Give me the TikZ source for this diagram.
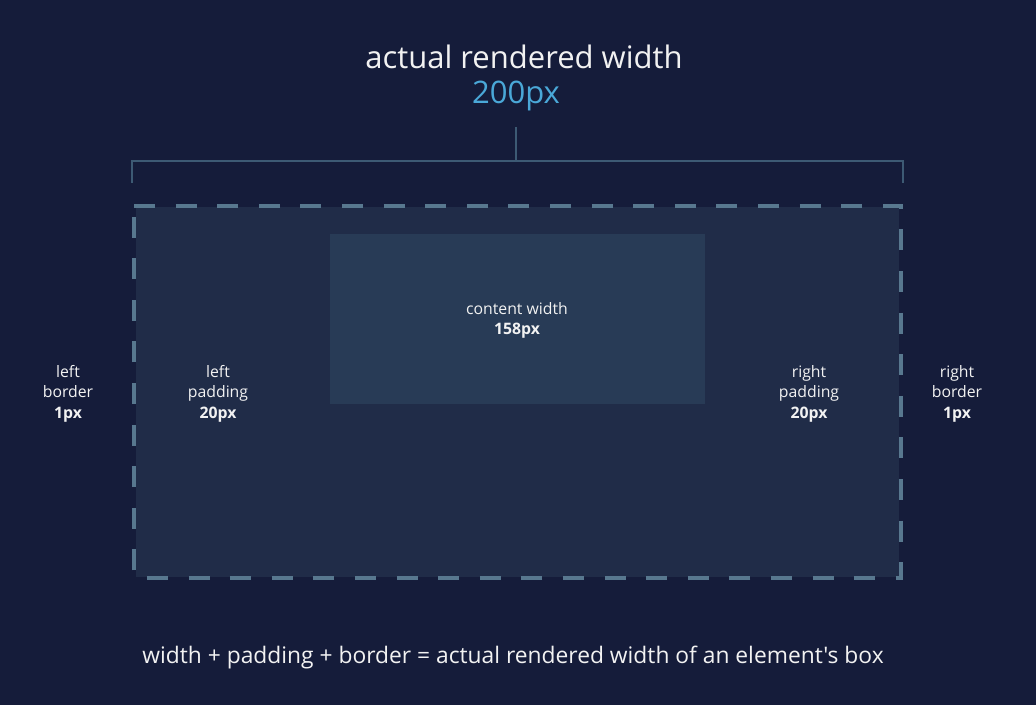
\documentclass[tikz,border=0pt]{standalone}
\usepackage{fontspec}
\setmainfont{Open Sans}
\definecolor{bg}{HTML}{151C3A}
\definecolor{panelc}{HTML}{202C48}
\definecolor{contentc}{HTML}{283B56}
\definecolor{dashc}{HTML}{58788F}
\definecolor{brk}{HTML}{3D5A74}
\definecolor{accent}{HTML}{4AA8D8}
\definecolor{txt}{HTML}{F2F2F2}
\begin{document}
\begin{tikzpicture}[x=1pt,y=-1pt,
  lbl/.style={text=txt,font=\fontsize{15.8}{20.5}\selectfont,align=center,inner sep=0pt},
  bracketline/.style={draw=brk,line width=1.5pt}]
\useasboundingbox[fill=bg] (0,0) rectangle (1036,705);
% panel
\fill[panelc] (136,207) rectangle (899,577);
\node[fill=contentc,minimum width=375pt,minimum height=170pt,inner sep=0pt,anchor=north west] (cbox) at (330,234) {};
\draw[draw=dashc,line width=4pt,dash pattern=on 21pt off 20.6pt] (134,206) -- (901,206) -- (901,578) -- (134,578) -- cycle;
% bracket
\coordinate (bl) at (132,183);
\coordinate (br) at (903,183);
\coordinate (btl) at (132,161);
\coordinate (btr) at (903,161);
\coordinate (bm) at (516,161);
\coordinate (bt) at (516,127);
\draw[bracketline] (bl) -- (btl) -- (btr) -- (br);
\draw[bracketline] (bm) -- (bt);
% titles
\node[text=txt,font=\fontsize{31}{36}\selectfont,inner sep=0pt] (title) at (524,57) {actual rendered width};
\node[text=accent,font=\fontsize{31}{36}\selectfont,inner sep=0pt] (val) at (516,96) {200px};
% labels
\node[lbl] (content) at (517,320.5) {content width\\\textbf{158px}};
\node[lbl] (lb) at (68,393.5) {left\\border\\\textbf{1px}};
\node[lbl] (lp) at (218,393.5) {left\\padding\\\textbf{20px}};
\node[lbl] (rp) at (809,393.5) {right\\padding\\\textbf{20px}};
\node[lbl] (rb) at (957,393.5) {right\\border\\\textbf{1px}};
\node[text=txt,font=\fontsize{22.8}{26}\selectfont\addfontfeature{Ligatures=TeXOff},inner sep=0pt] (foot) at (513,658) {width + padding + border = actual rendered width of an element's box};
\end{tikzpicture}
\end{document}
